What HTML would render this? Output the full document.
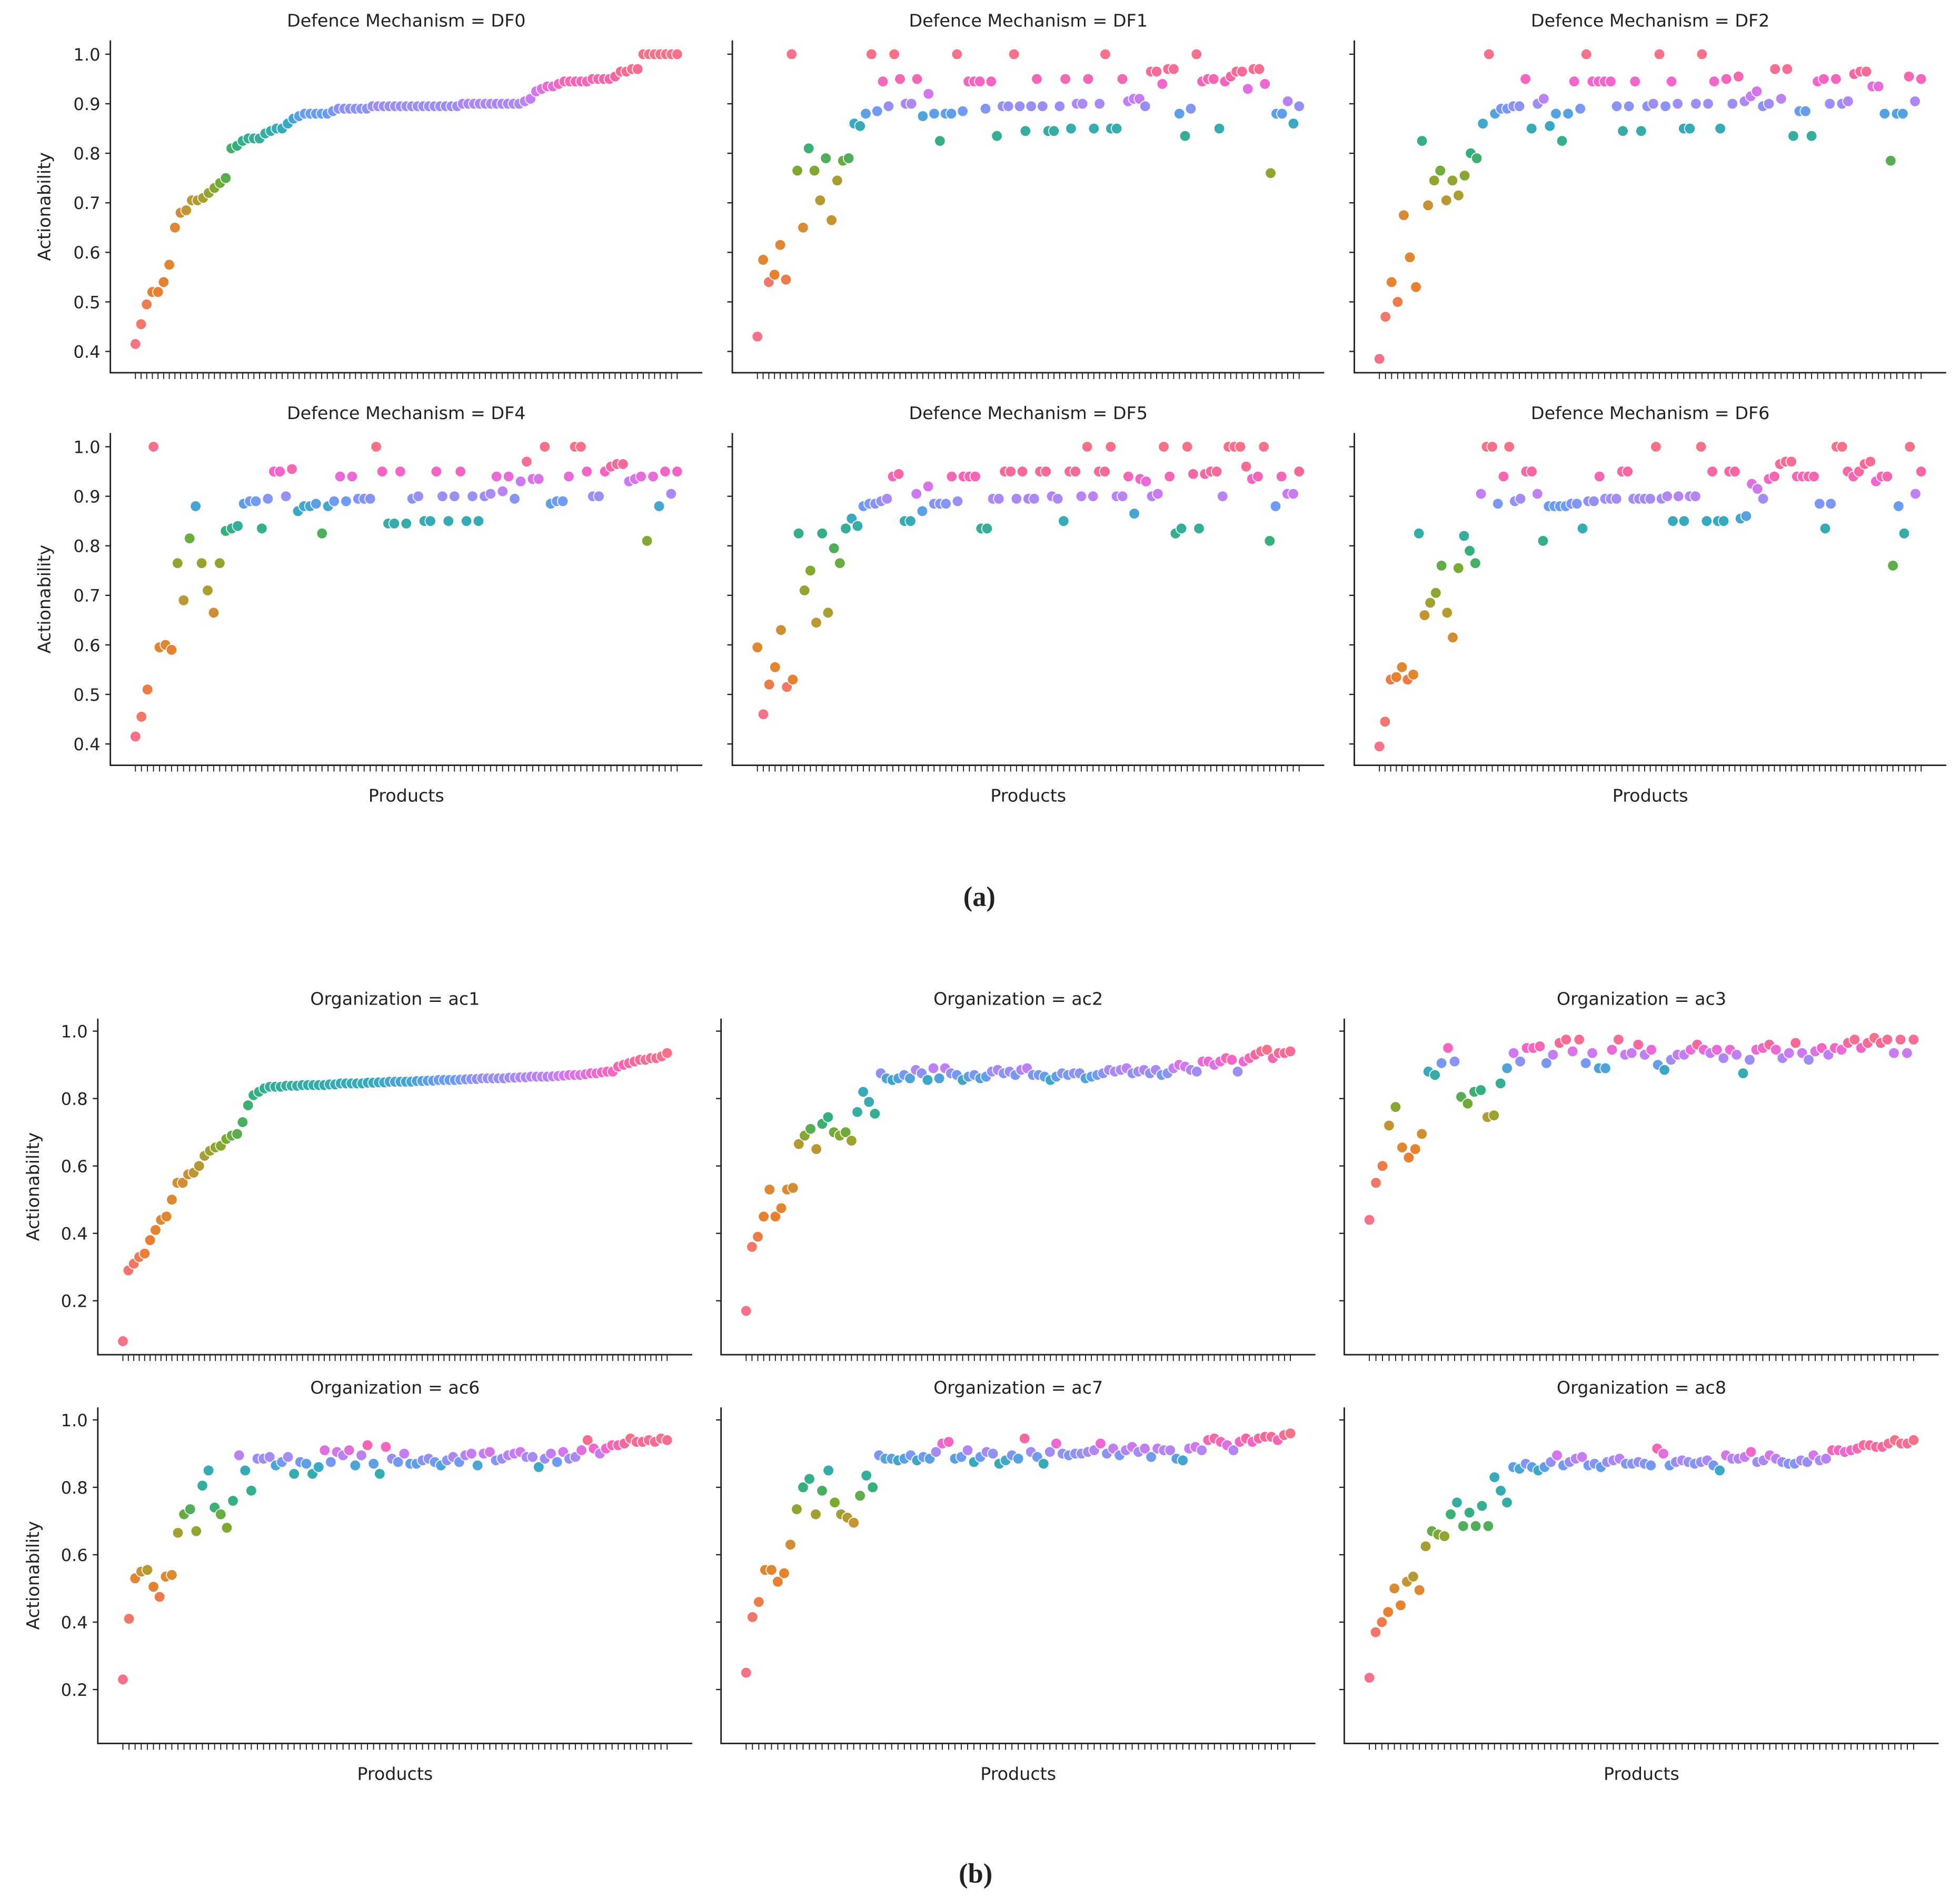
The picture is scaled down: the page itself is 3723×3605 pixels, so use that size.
<!DOCTYPE html>
<html><head><meta charset="utf-8"><style>
html,body{margin:0;padding:0;background:#fff;}
svg{display:block;}
text{font-family:"DejaVu Sans","Liberation Sans",sans-serif;fill:#222;}
</style></head><body>
<svg id="chart" xmlns="http://www.w3.org/2000/svg" width="3723" height="3605" viewBox="0 0 1563 1513">
<rect width="1563" height="1513" fill="#fff"/>
<text x="781" y="722" text-anchor="middle" style="font-family:'Liberation Serif',serif;font-size:22px;font-weight:bold">(a)</text>
<text x="778" y="1501" text-anchor="middle" style="font-family:'Liberation Serif',serif;font-size:22px;font-weight:bold">(b)</text>
</svg>
<script>
const titles=["Defence Mechanism = DF0","Defence Mechanism = DF1","Defence Mechanism = DF2","Defence Mechanism = DF4","Defence Mechanism = DF5","Defence Mechanism = DF6","Organization = ac1","Organization = ac2","Organization = ac3","Organization = ac6","Organization = ac7","Organization = ac8"];
const topTicks=[0.4,0.5,0.6,0.7,0.8,0.9,1.0];
const topTickLabels=["0.4","0.5","0.6","0.7","0.8","0.9","1.0"];
const botTicks=[0.2,0.4,0.6,0.8,1.0];
const botTickLabels=["0.2","0.4","0.6","0.8","1.0"];
const df0=[0.415,0.455,0.495,0.52,0.52,0.54,0.575,0.65,0.68,0.685,0.705,0.705,0.71,0.72,0.73,0.74,0.75,0.81,0.815,0.825,0.83,0.83,0.83,0.84,0.845,0.85,0.85,0.86,0.87,0.875,0.88,0.88,0.88,0.88,0.88,0.885,0.89,0.89,0.89,0.89,0.89,0.89,0.895,0.895,0.895,0.895,0.895,0.895,0.895,0.895,0.895,0.895,0.895,0.895,0.895,0.895,0.895,0.895,0.9,0.9,0.9,0.9,0.9,0.9,0.9,0.9,0.9,0.9,0.9,0.905,0.91,0.925,0.93,0.935,0.935,0.94,0.945,0.945,0.945,0.945,0.945,0.95,0.95,0.95,0.95,0.955,0.965,0.965,0.97,0.97,1.0,1.0,1.0,1.0,1.0,1.0,1.0];
const df1=[0.43,0.585,0.54,0.555,0.615,0.545,1.0,0.765,0.65,0.81,0.765,0.705,0.79,0.665,0.745,0.785,0.79,0.86,0.855,0.88,1.0,0.885,0.945,0.895,1.0,0.95,0.9,0.9,0.95,0.875,0.92,0.88,0.825,0.88,0.88,1.0,0.885,0.945,0.945,0.945,0.89,0.945,0.835,0.895,0.895,1.0,0.895,0.845,0.895,0.95,0.895,0.845,0.845,0.895,0.95,0.85,0.9,0.9,0.95,0.85,0.9,1.0,0.85,0.85,0.95,0.905,0.91,0.91,0.895,0.965,0.965,0.94,0.97,0.97,0.88,0.835,0.89,1.0,0.945,0.95,0.95,0.85,0.945,0.955,0.965,0.965,0.93,0.97,0.97,0.94,0.76,0.88,0.88,0.905,0.86,0.895];
const df2=[0.385,0.47,0.54,0.5,0.675,0.59,0.53,0.825,0.695,0.745,0.765,0.705,0.745,0.715,0.755,0.8,0.79,0.86,1.0,0.88,0.89,0.89,0.895,0.895,0.95,0.85,0.9,0.91,0.855,0.88,0.825,0.88,0.945,0.89,1.0,0.945,0.945,0.945,0.945,0.895,0.845,0.895,0.945,0.845,0.895,0.9,1.0,0.895,0.945,0.9,0.85,0.85,0.9,1.0,0.9,0.945,0.85,0.95,0.9,0.955,0.905,0.915,0.925,0.895,0.9,0.97,0.91,0.97,0.835,0.885,0.885,0.835,0.945,0.95,0.9,0.95,0.9,0.905,0.96,0.965,0.965,0.935,0.935,0.88,0.785,0.88,0.88,0.955,0.905,0.95];
const df4=[0.415,0.455,0.51,1.0,0.595,0.6,0.59,0.765,0.69,0.815,0.88,0.765,0.71,0.665,0.765,0.83,0.835,0.84,0.885,0.89,0.89,0.835,0.895,0.95,0.95,0.9,0.955,0.87,0.88,0.88,0.885,0.825,0.88,0.89,0.94,0.89,0.94,0.895,0.895,0.895,1.0,0.95,0.845,0.845,0.95,0.845,0.895,0.9,0.85,0.85,0.95,0.9,0.85,0.9,0.95,0.85,0.9,0.85,0.9,0.905,0.94,0.91,0.94,0.895,0.93,0.97,0.935,0.935,1.0,0.885,0.89,0.89,0.94,1.0,1.0,0.95,0.9,0.9,0.95,0.96,0.965,0.965,0.93,0.935,0.94,0.81,0.94,0.88,0.95,0.905,0.95];
const df5=[0.595,0.46,0.52,0.555,0.63,0.515,0.53,0.825,0.71,0.75,0.645,0.825,0.665,0.795,0.765,0.835,0.855,0.84,0.88,0.885,0.885,0.89,0.895,0.94,0.945,0.85,0.85,0.905,0.87,0.92,0.885,0.885,0.885,0.94,0.89,0.94,0.94,0.94,0.835,0.835,0.895,0.895,0.95,0.95,0.895,0.95,0.895,0.895,0.95,0.95,0.9,0.895,0.85,0.95,0.95,0.9,1.0,0.9,0.95,0.95,1.0,0.9,0.9,0.94,0.865,0.935,0.93,0.9,0.905,1.0,0.94,0.825,0.835,1.0,0.945,0.835,0.945,0.95,0.95,0.9,1.0,1.0,1.0,0.96,0.935,0.94,1.0,0.81,0.88,0.94,0.905,0.905,0.95];
const df6=[0.395,0.445,0.53,0.535,0.555,0.53,0.54,0.825,0.66,0.685,0.705,0.76,0.665,0.615,0.755,0.82,0.79,0.765,0.905,1.0,1.0,0.885,0.94,1.0,0.89,0.895,0.95,0.95,0.905,0.81,0.88,0.88,0.88,0.88,0.885,0.885,0.835,0.89,0.89,0.94,0.895,0.895,0.895,0.95,0.95,0.895,0.895,0.895,0.895,1.0,0.895,0.9,0.85,0.9,0.85,0.9,0.9,1.0,0.85,0.95,0.85,0.85,0.95,0.95,0.855,0.86,0.925,0.915,0.895,0.935,0.94,0.965,0.97,0.97,0.94,0.94,0.94,0.94,0.885,0.835,0.885,1.0,1.0,0.95,0.94,0.95,0.965,0.97,0.93,0.94,0.94,0.76,0.88,0.825,1.0,0.905,0.95];
const ac1=[0.08,0.29,0.31,0.33,0.34,0.38,0.41,0.44,0.45,0.5,0.55,0.55,0.575,0.58,0.6,0.63,0.645,0.655,0.66,0.68,0.69,0.695,0.73,0.78,0.81,0.82,0.83,0.835,0.835,0.835,0.838,0.838,0.838,0.84,0.84,0.84,0.84,0.84,0.842,0.842,0.845,0.845,0.845,0.845,0.845,0.847,0.847,0.848,0.848,0.85,0.85,0.85,0.85,0.85,0.852,0.852,0.853,0.853,0.855,0.855,0.855,0.855,0.856,0.857,0.858,0.858,0.86,0.86,0.86,0.86,0.86,0.862,0.862,0.863,0.863,0.865,0.865,0.865,0.865,0.866,0.867,0.868,0.87,0.87,0.87,0.872,0.875,0.875,0.878,0.88,0.88,0.895,0.9,0.905,0.91,0.915,0.915,0.92,0.92,0.925,0.935];
const ac2=[0.17,0.36,0.39,0.45,0.53,0.45,0.475,0.53,0.535,0.665,0.69,0.71,0.65,0.725,0.745,0.7,0.69,0.7,0.675,0.76,0.82,0.79,0.755,0.875,0.86,0.855,0.86,0.87,0.86,0.885,0.875,0.855,0.89,0.86,0.89,0.875,0.87,0.855,0.865,0.87,0.86,0.865,0.88,0.885,0.875,0.88,0.87,0.885,0.89,0.87,0.87,0.865,0.855,0.865,0.875,0.87,0.875,0.875,0.86,0.865,0.87,0.875,0.885,0.88,0.885,0.89,0.875,0.88,0.885,0.875,0.885,0.87,0.875,0.89,0.9,0.895,0.885,0.88,0.91,0.91,0.9,0.91,0.92,0.915,0.88,0.91,0.92,0.93,0.94,0.945,0.92,0.935,0.935,0.94];
const ac3=[0.44,0.55,0.6,0.72,0.775,0.655,0.625,0.65,0.695,0.88,0.87,0.905,0.95,0.91,0.805,0.785,0.82,0.825,0.745,0.75,0.845,0.89,0.935,0.91,0.95,0.95,0.955,0.905,0.93,0.965,0.975,0.94,0.975,0.905,0.935,0.89,0.89,0.945,0.975,0.93,0.935,0.96,0.93,0.945,0.9,0.885,0.915,0.93,0.93,0.945,0.96,0.945,0.935,0.945,0.92,0.945,0.93,0.875,0.915,0.945,0.95,0.96,0.945,0.92,0.935,0.965,0.935,0.915,0.94,0.95,0.93,0.95,0.945,0.965,0.975,0.95,0.965,0.98,0.965,0.975,0.935,0.975,0.935,0.975];
const ac6=[0.23,0.41,0.53,0.55,0.555,0.505,0.475,0.535,0.54,0.665,0.72,0.735,0.67,0.805,0.85,0.74,0.72,0.68,0.76,0.895,0.85,0.79,0.885,0.885,0.89,0.865,0.875,0.89,0.84,0.875,0.87,0.84,0.86,0.91,0.875,0.905,0.895,0.91,0.865,0.895,0.925,0.87,0.84,0.92,0.885,0.875,0.9,0.87,0.87,0.88,0.885,0.875,0.865,0.88,0.89,0.875,0.895,0.9,0.865,0.9,0.905,0.88,0.885,0.895,0.9,0.905,0.89,0.89,0.86,0.885,0.9,0.875,0.905,0.885,0.89,0.91,0.94,0.915,0.9,0.915,0.925,0.925,0.93,0.945,0.935,0.935,0.94,0.935,0.945,0.94];
const ac7=[0.25,0.415,0.46,0.555,0.555,0.52,0.545,0.63,0.735,0.8,0.825,0.72,0.79,0.85,0.755,0.72,0.71,0.695,0.775,0.835,0.8,0.895,0.885,0.885,0.88,0.885,0.895,0.88,0.89,0.885,0.905,0.93,0.935,0.885,0.89,0.91,0.875,0.89,0.905,0.9,0.87,0.88,0.895,0.885,0.945,0.905,0.89,0.87,0.905,0.93,0.9,0.895,0.9,0.9,0.905,0.91,0.93,0.9,0.915,0.895,0.91,0.92,0.905,0.915,0.89,0.915,0.91,0.91,0.885,0.88,0.915,0.92,0.91,0.94,0.945,0.935,0.925,0.91,0.935,0.945,0.935,0.945,0.95,0.95,0.94,0.955,0.96];
const ac8=[0.235,0.37,0.4,0.43,0.5,0.45,0.52,0.535,0.495,0.625,0.67,0.66,0.655,0.72,0.755,0.685,0.725,0.685,0.745,0.685,0.83,0.79,0.755,0.86,0.855,0.87,0.86,0.85,0.86,0.875,0.895,0.865,0.875,0.885,0.89,0.865,0.87,0.86,0.875,0.88,0.885,0.87,0.87,0.875,0.87,0.865,0.915,0.9,0.865,0.875,0.88,0.875,0.87,0.875,0.88,0.865,0.85,0.895,0.885,0.885,0.89,0.905,0.875,0.88,0.895,0.885,0.875,0.87,0.87,0.88,0.875,0.895,0.88,0.885,0.91,0.91,0.905,0.91,0.915,0.925,0.925,0.92,0.92,0.93,0.94,0.93,0.93,0.94];
const series=[df0,df1,df2,df4,df5,df6,ac1,ac2,ac3,ac6,ac7,ac8];

const NS="http://www.w3.org/2000/svg";
const svg=document.getElementById('chart');
const stops=["#f77189","#e8802f","#dc8932","#ae9d31","#77ab31","#33b07a","#36ada4","#38a9c5","#6e9bf4","#a48cf4","#cc7af4","#f565cc","#f5689f","#f77189"];
function hex(c){return [parseInt(c.substr(1,2),16),parseInt(c.substr(3,2),16),parseInt(c.substr(5,2),16)];}
function pal(t){const p=t*(stops.length-1);const i=Math.min(Math.floor(p),stops.length-2);const f=p-i;const a=hex(stops[i]),b=hex(stops[i+1]);return 'rgb('+a.map((v,k)=>Math.round(v+(b[k]-v)*f)).join(',')+')';}
function mk(tag,attrs,parent){const e=document.createElementNS(NS,tag);for(const k in attrs)e.setAttribute(k,attrs[k]);(parent||svg).appendChild(e);return e;}

const panels=[];
const topL=[88,584,1080],botL=[78,575,1072];
for(let p=0;p<12;p++){
  const isTop=p<6,col=p%3,row=Math.floor(p/3)%2;
  const L=isTop?topL[col]:botL[col],W=isTop?472:474;
  const T=isTop?(row===0?32:345):(row===0?812:1122);
  const H=isTop?265:268;
  panels.push({L,W,T,H,isTop,col,row});
}
panels.forEach((P,p)=>{
  const data=series[p];
  const g=mk('g',{});
  
  
  const yScale=P.isTop?(v=>P.T+11+(1-v)*395):(v=>P.T+10+(1-v)*268.75);
  const n=data.length;
  const x0=P.L+20,x1=P.L+P.W-20;
  const xScale=i=>x0+i*(x1-x0)/(n-1);
  // title
  const tt=mk('text',{x:P.L+P.W/2,y:P.T-11,'text-anchor':'middle','font-size':14},g);
  tt.textContent=titles[p];
  
  
  // spines
  const sp=mk('path',{d:`M${P.L},${P.T}V${P.T+P.H}H${P.L+P.W}`,fill:'none',stroke:'#222','stroke-width':1.2},g);
  
  
  // y ticks
  const tv=P.isTop?topTicks:botTicks,tl=P.isTop?topTickLabels:botTickLabels;
  tv.forEach((v,k)=>{
    const y=yScale(v);
    const tk=mk('line',{x1:P.L-4,x2:P.L,y1:y,y2:y,stroke:'#222','stroke-width':1},g);
    
    
    if(P.col===0){
      const lb=mk('text',{x:P.L-8,y:y+5,'text-anchor':'end','font-size':13.5},g);
      lb.textContent=tl[k];
      
      
    }
  });
  if(P.col===0){
    const yl=mk('text',{x:0,y:0,'text-anchor':'middle','font-size':14,transform:`translate(${P.isTop?40:31},${P.T+P.H/2}) rotate(-90)`},g);
    yl.textContent='Actionability';
    
    
  }
  if(P.row===1){
    const xl=mk('text',{x:P.L+P.W/2,y:P.T+P.H+29,'text-anchor':'middle','font-size':14},g);
    xl.textContent='Products';
    
    
  }
  // x ticks
  for(let i=0;i<n;i++){
    const x=xScale(i);
    const tk=mk('line',{x1:x,x2:x,y1:P.T+P.H,y2:P.T+P.H+5,stroke:'#222','stroke-width':0.8},g);
    
    
  }
  // colors by rank of unique value
  const uniq=[...new Set(data)].sort((a,b)=>a-b);
  data.forEach((v,i)=>{
    const t=uniq.length>1?uniq.indexOf(v)/(uniq.length-1):0;
    const c=mk('circle',{cx:xScale(i),cy:yScale(v),r:4.3,fill:pal(t),stroke:'#fff','stroke-width':0.7},g);
    
    
  });
});
</script>
</body></html>
